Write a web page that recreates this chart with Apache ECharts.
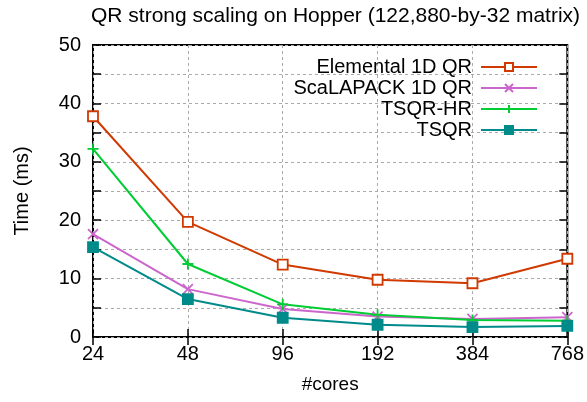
<!DOCTYPE html>
<html>
<head>
<meta charset="utf-8">
<script src="https://cdn.jsdelivr.net/npm/echarts@6/dist/echarts.min.js"></script>
<style>html,body{margin:0;padding:0;background:#fff}#c{width:587px;height:402px}</style>
</head>
<body>
<div id="c"></div>
<script>
var cores = ['24', '48', '96', '192', '384', '768'];
var elemental = [37.8, 19.7, 12.4, 9.8, 9.2, 13.4];
var scalapack = [17.6, 8.2, 4.8, 3.5, 3.1, 3.4];
var tsqrHR = [32.2, 12.5, 5.6, 3.8, 2.9, 2.8];
var tsqr = [15.4, 6.5, 3.3, 2.1, 1.7, 1.9];
var yTicks = [0, 10, 20, 30, 40, 50];

var FONT = 'Liberation Sans, Arial, sans-serif';
var crossPath = 'path://M0,0L10,10M10,0L0,10';
var plusPath = 'path://M5,0L5,10M0,5L10,5';

function mk(name, data, color, symbol, size, fill) {
  return {
    name: name, type: 'line', data: data, symbol: symbol, symbolSize: size,
    showAllSymbol: true,
    lineStyle: {color: color, width: 2},
    itemStyle: {color: fill, borderColor: color, borderWidth: 1.8},
    xAxisIndex: 0, yAxisIndex: 0, z: 3
  };
}

var chart = echarts.init(document.getElementById('c'));
chart.setOption({
  animation: false,
  backgroundColor: '#fff',
  textStyle: {fontFamily: FONT},
  title: {
    text: 'QR strong scaling on Hopper (122,880-by-32 matrix)',
    left: 86, top: 1,
    textStyle: {fontFamily: FONT, fontSize: 21, fontWeight: 'normal', color: '#000'}
  },
  grid: {left: 93, right: 18, top: 45, bottom: 65, show: true, borderColor: '#000', borderWidth: 2, backgroundColor: 'transparent'},
  legend: {
    right: 44, top: 52, orient: 'vertical', align: 'right',
    itemWidth: 56, itemHeight: 10, itemGap: 1,
    textStyle: {fontFamily: FONT, fontSize: 20, color: '#000', padding: [0, 4, 0, 0]},
    data: ['Elemental 1D QR', 'ScaLAPACK 1D QR', 'TSQR-HR', 'TSQR']
  },
  xAxis: [{
    type: 'category', data: cores, boundaryGap: false,
    name: '#cores', nameLocation: 'middle', nameGap: 38,
    nameTextStyle: {fontFamily: FONT, fontSize: 19, color: '#000'},
    axisLine: {show: false},
    axisTick: {show: true, inside: true, length: 8, lineStyle: {color: '#000', width: 1.5}},
    axisLabel: {color: '#000', fontSize: 20, fontFamily: FONT, margin: 7},
    splitLine: {show: true, lineStyle: {color: '#aaa', type: [3, 3], width: 1}}
  }, {
    type: 'category', data: cores, boundaryGap: false, position: 'top',
    axisLine: {show: false},
    axisTick: {show: true, inside: true, length: 8, lineStyle: {color: '#000', width: 1.5}},
    axisLabel: {show: false}, splitLine: {show: false}
  }],
  yAxis: [{
    type: 'value', min: 0, max: 50, interval: 5,
    name: 'Time (ms)', nameLocation: 'middle', nameGap: 61,
    nameTextStyle: {fontFamily: FONT, fontSize: 20, color: '#000'},
    axisLine: {show: false},
    axisTick: {show: true, inside: true, length: 8, lineStyle: {color: '#000', width: 1.5}},
    axisLabel: {color: '#000', fontSize: 20, fontFamily: FONT, margin: 12,
      formatter: function (v) { return yTicks.indexOf(v) >= 0 ? String(v) : ''; }},
    splitLine: {show: true, lineStyle: {color: '#aaa', type: [3, 3], width: 1}}
  }, {
    type: 'value', min: 0, max: 50, interval: 5, position: 'right',
    axisLine: {show: false},
    axisTick: {show: true, inside: true, length: 8, lineStyle: {color: '#000', width: 1.5}},
    axisLabel: {show: false}, splitLine: {show: false}
  }],
  series: [
    mk('Elemental 1D QR', elemental, '#d03a00', 'rect', 10, '#fff'),
    mk('ScaLAPACK 1D QR', scalapack, '#cc66cc', crossPath, 10, '#cc66cc'),
    mk('TSQR-HR', tsqrHR, '#00cc33', plusPath, 11, '#00cc33'),
    mk('TSQR', tsqr, '#008b8b', 'rect', 10, '#008b8b')
  ]
});
</script>
</body>
</html>
